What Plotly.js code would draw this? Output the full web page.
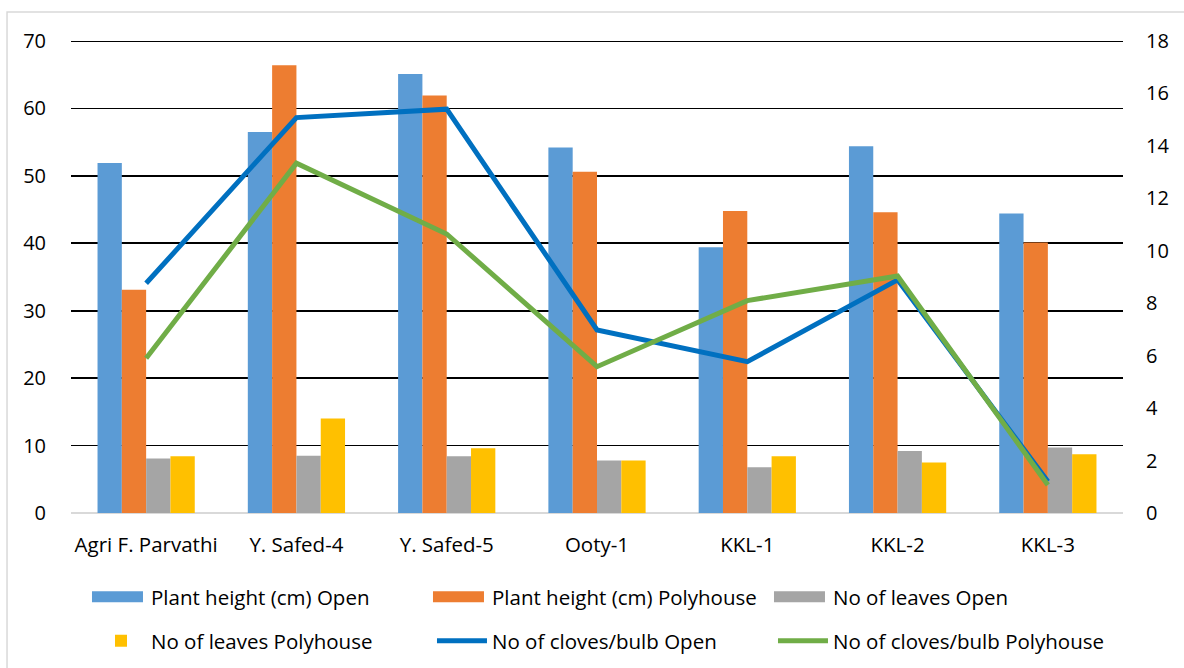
<!DOCTYPE html>
<html>
<head>
<meta charset="utf-8">
<script src="https://cdn.plot.ly/plotly-3.0.1.min.js"></script>
<style>html,body{margin:0;padding:0;background:#fff;}#chart{width:1184px;height:668px;}</style>
</head>
<body>
<div id="chart"></div>
<script>
const categories = ["Agri F. Parvathi", "Y. Safed-4", "Y. Safed-5", "Ooty-1", "KKL-1", "KKL-2", "KKL-3"];
const heightOpen = [51.9, 56.5, 65.1, 54.2, 39.4, 54.4, 44.4];
const heightPoly = [33.1, 66.4, 61.9, 50.6, 44.8, 44.6, 40.1];
const leavesOpen = [8.1, 8.5, 8.4, 7.8, 6.8, 9.2, 9.7];
const leavesPoly = [8.4, 14.0, 9.6, 7.8, 8.4, 7.5, 8.7];
const clovesOpen = [8.76, 15.08, 15.4, 6.98, 5.77, 8.89, 1.2];
const clovesPoly = [5.9, 13.34, 10.64, 5.58, 8.1, 9.04, 1.07];
const leftTicks = [0, 10, 20, 30, 40, 50, 60, 70];
const rightTicks = [0, 2, 4, 6, 8, 10, 12, 14, 16, 18];

const FONT = "'Open Sans', 'Liberation Sans', sans-serif";
const LEFT_MAX = leftTicks[leftTicks.length - 1];
const RIGHT_MAX = rightTicks[rightTicks.length - 1];

const traces = [
  {type: 'bar', x: categories, y: heightOpen, name: 'Plant height (cm) Open', marker: {color: '#5B9BD5'}, legend: 'legend'},
  {type: 'bar', x: categories, y: heightPoly, name: 'Plant height (cm) Polyhouse', marker: {color: '#ED7D31'}, legend: 'legend'},
  {type: 'bar', x: categories, y: leavesOpen, name: 'No of leaves Open', marker: {color: '#A5A5A5'}, legend: 'legend'},
  {type: 'bar', x: categories, y: leavesPoly, name: 'No of leaves Polyhouse', marker: {color: '#FFC000'}, legend: 'legend2'},
  {type: 'scatter', mode: 'lines', x: categories, y: clovesOpen, name: 'No of cloves/bulb Open', yaxis: 'y2', line: {color: '#0070C0', width: 5}, legend: 'legend2'},
  {type: 'scatter', mode: 'lines', x: categories, y: clovesPoly, name: 'No of cloves/bulb Polyhouse', yaxis: 'y2', line: {color: '#70AD47', width: 5}, legend: 'legend2'}
];

const legendCommon = {
  orientation: 'h', xanchor: 'left', yanchor: 'middle', x: 0.019,
  itemwidth: 50,
  entrywidth: 276, entrywidthmode: 'pixels',
  font: {family: FONT, size: 20.5, color: '#000'}, bgcolor: 'rgba(0,0,0,0)'
};

const layout = {
  width: 1184, height: 668,
  margin: {l: 71, r: 61, t: 41, b: 155, autoexpand: false},
  paper_bgcolor: '#fff', plot_bgcolor: '#fff',
  font: {family: FONT, size: 20, color: '#000'},
  barmode: 'group', bargap: 0.353, bargroupgap: 0,
  xaxis: {type: 'category', showgrid: false, showline: false, ticks: '', ticklabelstandoff: 17,
          automargin: false, tickfont: {family: FONT, size: 20.5, color: '#000'}},
  yaxis: {range: [0, LEFT_MAX], tickvals: leftTicks, showgrid: true, gridcolor: '#000', gridwidth: 1.8,
          zeroline: true, zerolinecolor: '#d9d9d9', zerolinewidth: 2, showline: false,
          ticks: 'outside', ticklen: 20, tickcolor: 'rgba(0,0,0,0)', automargin: false,
          tickfont: {family: FONT, size: 20, color: '#000'}, fixedrange: true},
  yaxis2: {range: [0, RIGHT_MAX], tickvals: rightTicks, overlaying: 'y', side: 'right', showgrid: false,
           zeroline: false, showline: false, ticks: '',
           automargin: false, tickfont: {family: FONT, size: 20, color: '#000'}},
  legend: Object.assign({}, legendCommon, {y: -0.178}),
  legend2: Object.assign({}, legendCommon, {y: -0.271}),
  showlegend: true,
  shapes: [
    {type: 'line', xref: 'paper', x0: 0, x1: 1, yref: 'y', y0: LEFT_MAX, y1: LEFT_MAX,
     line: {color: '#000', width: 1.8}, layer: 'below'},
    {type: 'rect', xref: 'paper', yref: 'paper', x0: -0.0608, x1: 1.07, y0: -0.35, y1: 1.0615,
     line: {color: '#d9d9d9', width: 1.5}, fillcolor: 'rgba(0,0,0,0)', layer: 'below'}
  ]
};

function polish(gd) {
  // widen the bar legend swatches to the wide rectangles of the original
  gd.querySelectorAll('.legendpoints path').forEach(function (p) {
    const pr = p.getBoundingClientRect();
    if (pr.width === 0 || pr.width > 16) return;
    const tr = p.closest('g.traces');
    const txt = tr && tr.querySelector('text.legendtext');
    if (!txt) return;
    const trc = txt.getBoundingClientRect();
    const cx = (pr.left + pr.right) / 2;
    const x0 = trc.left - 59 - cx, x1 = trc.left - 8 - cx;
    p.setAttribute('d', 'M' + x0 + ',5.5H' + x1 + 'V-5.5H' + x0 + 'Z');
  });
  // move the right-hand tick labels away from the plot edge
  gd.querySelectorAll('g.y2tick text').forEach(function (t) {
    const x = t.getAttribute('x');
    if (x !== null && t.getAttribute('data-sx') === x) return;
    const nx = String((parseFloat(x) || 0) + 22);
    t.setAttribute('x', nx);
    t.setAttribute('data-sx', nx);
  });
}

Plotly.newPlot('chart', traces, layout, {displayModeBar: false, staticPlot: true}).then(function (gd) {
  polish(gd);
  let busy = false;
  const obs = new MutationObserver(function () {
    if (busy) return;
    busy = true;
    polish(gd);
    busy = false;
  });
  obs.observe(gd, {childList: true, subtree: true, attributes: true, attributeFilter: ['d', 'x', 'transform']});
  setTimeout(function () { polish(gd); }, 0);
  setTimeout(function () { polish(gd); }, 150);
  setTimeout(function () { polish(gd); }, 600);
});
</script>
</body>
</html>
